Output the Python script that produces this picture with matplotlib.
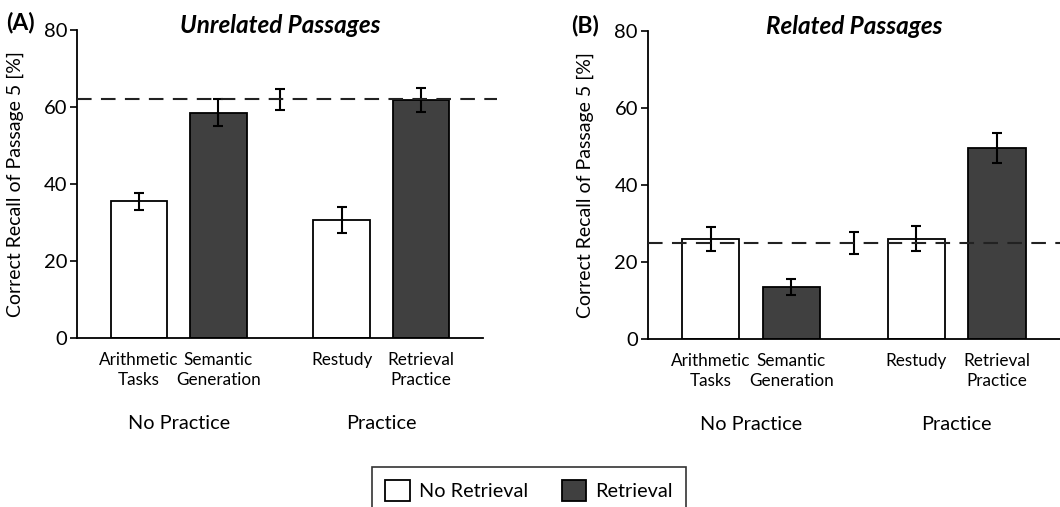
import matplotlib
matplotlib.use('Agg')
import matplotlib.pyplot as plt
from matplotlib.patches import Patch
from matplotlib.transforms import blended_transform_factory

plt.rcParams['font.family'] = ['Lato', 'DejaVu Sans']

## DATA

conditions = ['Arithmetic\nTasks', 'Semantic\nGeneration', 'Restudy', 'Retrieval\nPractice']
groups = ['No Practice', 'Practice']
retrieval = [False, True, False, True]

unrelated_means = [35.5, 58.5, 30.6, 61.8]
unrelated_err = [2.2, 3.5, 3.4, 3.2]
unrelated_ctrl = 62.0
unrelated_ctrl_err = 2.8

related_means = [25.9, 13.6, 26.1, 49.6]
related_err = [3.1, 2.0, 3.3, 4.0]
related_ctrl = 24.9
related_ctrl_err = 2.85

## LAYOUT

pos = [0, 1, 2.55, 3.55]
ctrl_pos = 1.78
group_pos = [0.5, 3.05]
dark = '#404040'

fig = plt.figure(figsize=(10.6, 5.07), dpi=100)
axA = fig.add_axes([0.0726, 0.3333, 0.3831, 0.6075])
axB = fig.add_axes([0.6110, 0.3308, 0.3890, 0.6086])


def panel(ax, means, err, ctrl, ctrl_err, title, xmax):
    colors = [dark if r else 'white' for r in retrieval]
    ax.bar(pos, means, width=0.71, color=colors, edgecolor='black', linewidth=1.3, zorder=2)
    ax.errorbar(pos, means, yerr=err, fmt='none', ecolor='black',
                elinewidth=1.5, capsize=3.5, capthick=1.5, zorder=3)
    ax.errorbar([ctrl_pos], [ctrl], yerr=[ctrl_err], fmt='none', ecolor='black',
                elinewidth=1.5, capsize=3.5, capthick=1.5, zorder=3)
    ax.plot([-0.78, xmax], [ctrl, ctrl], ls=(0, (7, 4.5)), color='#222222',
            lw=1.5, clip_on=False, zorder=4)

    ax.set_xlim(-0.78, 4.33)
    ax.set_ylim(0, 80)
    ax.set_yticks([0, 20, 40, 60, 80])
    ax.set_xticks(pos)
    ax.set_xticklabels(conditions, fontsize=12.3, linespacing=1.32)
    ax.tick_params(axis='x', length=0, pad=10)
    ax.tick_params(axis='y', length=5, width=1.2, labelsize=14.5, pad=2)
    for s in ['top', 'right']:
        ax.spines[s].set_visible(False)
    for s in ['left', 'bottom']:
        ax.spines[s].set_linewidth(1.3)
    ax.set_ylabel('Correct Recall of Passage 5 [%]', fontsize=14)
    ax.yaxis.set_label_coords(-0.13, 0.5)
    ax.text(0.5, 0.99, title, transform=ax.transAxes, ha='center', va='baseline',
            fontsize=17.5, fontweight='bold', style='italic')

    trans = blended_transform_factory(ax.transData, ax.transAxes)
    for g, x in zip(groups, group_pos):
        ax.text(x, -0.276, g, transform=trans, ha='center', va='center', fontsize=14.3)


panel(axA, unrelated_means, unrelated_err, unrelated_ctrl, unrelated_ctrl_err,
      'Unrelated Passages', 4.5)
panel(axB, related_means, related_err, related_ctrl, related_ctrl_err,
      'Related Passages', 4.5)

fig.text(0.006, 0.977, '(A)', fontsize=16.5, fontweight='bold', va='top', ha='left')
fig.text(0.539, 0.972, '(B)', fontsize=16.5, fontweight='bold', va='top', ha='left')

handles = [Patch(facecolor='white', edgecolor='black', linewidth=1.3, label='No Retrieval'),
           Patch(facecolor=dark, edgecolor='black', linewidth=1.3, label='Retrieval')]
leg = fig.legend(handles=handles, loc='upper left', ncol=2, mode='expand',
                 bbox_to_anchor=(0.351, 0.079 - 0.12, 0.296, 0.12),
                 fontsize=14.3, frameon=True, fancybox=False, edgecolor='black',
                 handlelength=1.25, handleheight=1.25, handletextpad=0.45,
                 borderpad=0.65, borderaxespad=0)
leg.get_frame().set_linewidth(1.2)

fig.savefig('out.png', dpi=100)
